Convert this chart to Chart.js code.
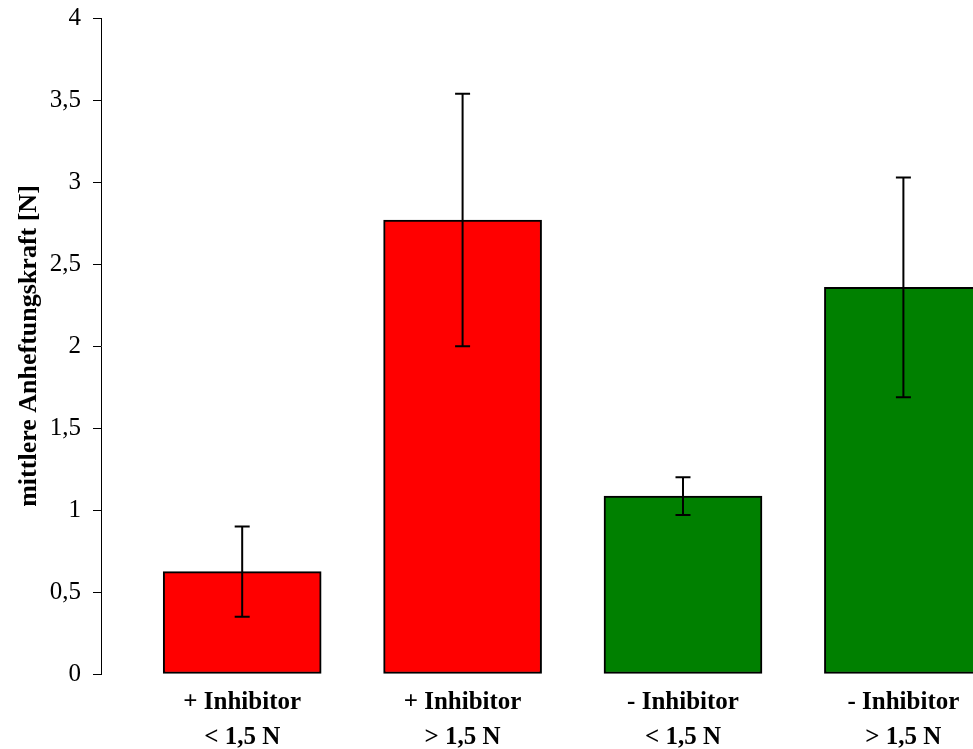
<!DOCTYPE html>
<html>
<head>
<meta charset="utf-8">
<script src="https://cdn.jsdelivr.net/npm/chart.js@4/dist/chart.umd.min.js"></script>
<style>
html,body{margin:0;padding:0;background:#fff;}
#c{display:block;}
</style>
</head>
<body>
<canvas id="c" width="973" height="749"></canvas>
<script>
const categories = [["+ Inhibitor", "< 1,5 N"], ["+ Inhibitor", "> 1,5 N"], ["- Inhibitor", "< 1,5 N"], ["- Inhibitor", "> 1,5 N"]];
const meanValues = [0.624, 2.768, 1.085, 2.358];
const errorValues = [0.275, 0.77, 0.115, 0.67];
const barColors = ["#ff0000", "#ff0000", "#008000", "#008000"];
const yTicks = [0, 0.5, 1, 1.5, 2, 2.5, 3, 3.5, 4];
const yTitle = "mittlere Anheftungskraft [N]";

const FONT = "'Liberation Serif', 'Times New Roman', serif";

const errorBarPlugin = {
  id: 'errorBars',
  afterDatasetsDraw(chart) {
    const ctx = chart.ctx;
    const xs = chart.scales.x, ys = chart.scales.y;
    ctx.save();
    ctx.beginPath();
    ctx.rect(chart.chartArea.left, 0, chart.chartArea.right - chart.chartArea.left, chart.height);
    ctx.clip();
    ctx.strokeStyle = '#000';
    ctx.lineWidth = 2;
    meanValues.forEach((m, i) => {
      const x = xs.getPixelForValue(i);
      const yt = ys.getPixelForValue(m + errorValues[i]);
      const yb = ys.getPixelForValue(m - errorValues[i]);
      const cap = 7.5;
      ctx.beginPath();
      ctx.moveTo(x, yt); ctx.lineTo(x, yb);
      ctx.moveTo(x - cap, yt); ctx.lineTo(x + cap, yt);
      ctx.moveTo(x - cap, yb); ctx.lineTo(x + cap, yb);
      ctx.stroke();
    });
    ctx.restore();
  }
};

new Chart(document.getElementById('c'), {
  type: 'bar',
  data: {
    datasets: [{
      data: meanValues.map((v, i) => ({x: i, y: v})),
      backgroundColor: barColors,
      borderColor: '#000',
      borderWidth: 2,
      borderSkipped: false,
      barThickness: 158
    }]
  },
  options: {
    responsive: false,
    animation: false,
    devicePixelRatio: 1,
    layout: {padding: {top: 18, right: 0, bottom: 0, left: 0}},
    plugins: {legend: {display: false}, tooltip: {enabled: false}},
    scales: {
      x: {
        type: 'linear',
        min: -0.6406,
        max: 3.3158,
        offset: false,
        grid: {display: false},
        border: {display: false},
        afterBuildTicks(scale) { scale.ticks = categories.map((c, i) => ({value: i})); },
        afterFit(scale) { scale.height = 75; scale.paddingLeft = 0; scale.paddingRight = 0; },
        ticks: {
          autoSkip: false,
          maxRotation: 0,
          padding: 3,
          color: '#000',
          font: {family: FONT, size: 25, weight: 'bold', lineHeight: 1.4},
          callback: (v) => categories[v] || ''
        }
      },
      y: {
        min: 0,
        max: 4,
        afterBuildTicks(scale) { scale.ticks = yTicks.map(v => ({value: v})); },
        afterFit(scale) { scale.width = 101; scale.paddingTop = 0; scale.paddingBottom = 0; },
        grid: {drawOnChartArea: false, drawTicks: true, tickLength: 8, color: '#000', lineWidth: 1},
        border: {display: true, color: '#000', width: 1},
        ticks: {
          padding: 12,
          color: '#000',
          font: {family: FONT, size: 25},
          callback: (v) => String(v).replace('.', ',')
        },
        title: {
          display: true,
          text: yTitle,
          color: '#000',
          font: {family: FONT, size: 26, weight: 'bold'},
          padding: {top: 14, bottom: 0}
        }
      }
    }
  },
  plugins: [errorBarPlugin]
});
</script>
</body>
</html>
